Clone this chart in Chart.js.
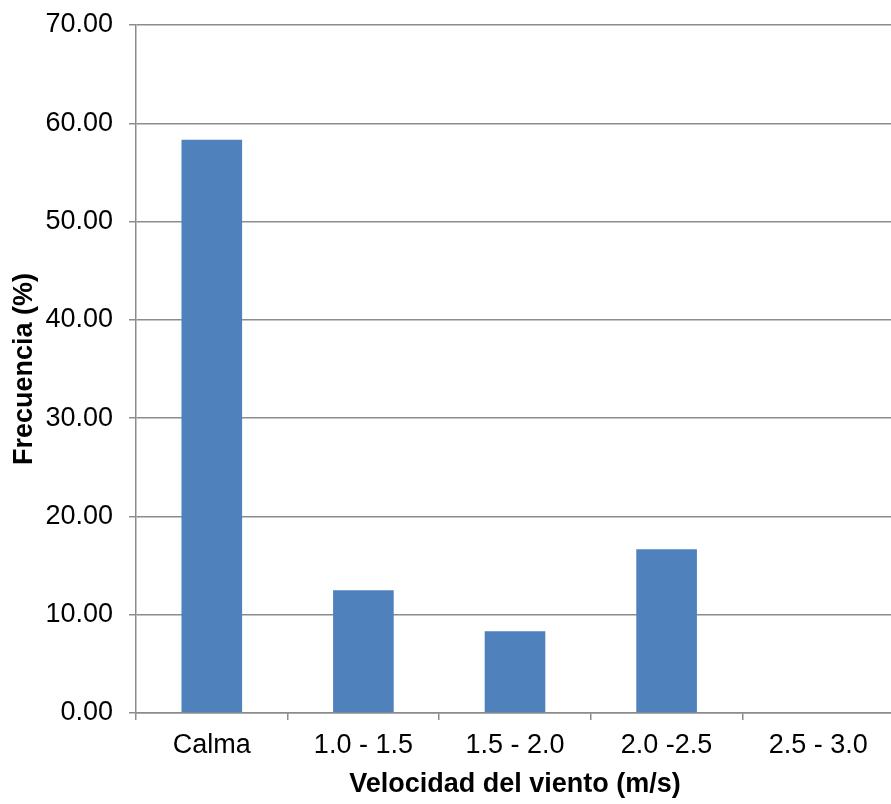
<!DOCTYPE html>
<html>
<head>
<meta charset="utf-8">
<script src="https://cdn.jsdelivr.net/npm/chart.js@4/dist/chart.umd.min.js"></script>
<style>
  html, body { margin: 0; padding: 0; overflow: hidden; background: #fff; }
  #wrap { position: relative; width: 894px; height: 804px; }
</style>
</head>
<body>
<div id="wrap"><canvas id="c"></canvas></div>
<script>
// Wind speed classes and their frequency (%)
const categories = ['Calma', '1.0 - 1.5', '1.5 - 2.0', '2.0 -2.5', '2.5 - 3.0'];
const frecuencia = [58.33, 12.5, 8.33, 16.67, 0];
const yTickLabelFormat = v => v.toFixed(2);

const FONT = "'Liberation Sans', Arial, sans-serif";
const GRID = '#8c8c8c';

new Chart(document.getElementById('c'), {
  type: 'bar',
  data: {
    labels: categories,
    datasets: [{
      data: frecuencia,
      backgroundColor: '#4f81bd',
      borderWidth: 0,
      barPercentage: 0.4,
      categoryPercentage: 1.0
    }]
  },
  options: {
    responsive: true,
    maintainAspectRatio: false,
    animation: false,
    layout: { padding: { top: 25, right: 0, bottom: 0, left: 0 } },
    plugins: { legend: { display: false }, tooltip: { enabled: false } },
    scales: {
      x: {
        grid: { display: true, drawOnChartArea: false, drawTicks: true, tickLength: 7, color: GRID, lineWidth: 1.5, offset: true },
        border: { display: true, color: GRID, width: 1.5 },
        ticks: { color: '#000', font: { family: FONT, size: 27 }, padding: 9, maxRotation: 0, autoSkip: false },
        title: { display: true, text: 'Velocidad del viento (m/s)', color: '#000', font: { family: FONT, size: 27, weight: 'bold' }, padding: { top: 4, bottom: 3 } },
        afterFit: s => { s.height = 91; }
      },
      y: {
        min: 0,
        max: 70,
        grid: { display: true, drawOnChartArea: true, drawTicks: true, tickLength: 7, color: GRID, lineWidth: 1.5 },
        border: { display: true, color: GRID, width: 1.5 },
        ticks: { stepSize: 10, color: '#000', font: { family: FONT, size: 27 }, padding: 16, callback: v => yTickLabelFormat(v) },
        title: { display: true, text: 'Frecuencia (%)', color: '#000', font: { family: FONT, size: 27, weight: 'bold' }, padding: { top: 8, bottom: 4 } },
        afterFit: s => { s.width = 136; s.paddingTop = 0; s.paddingBottom = 0; }
      }
    }
  }
});
</script>
</body>
</html>
